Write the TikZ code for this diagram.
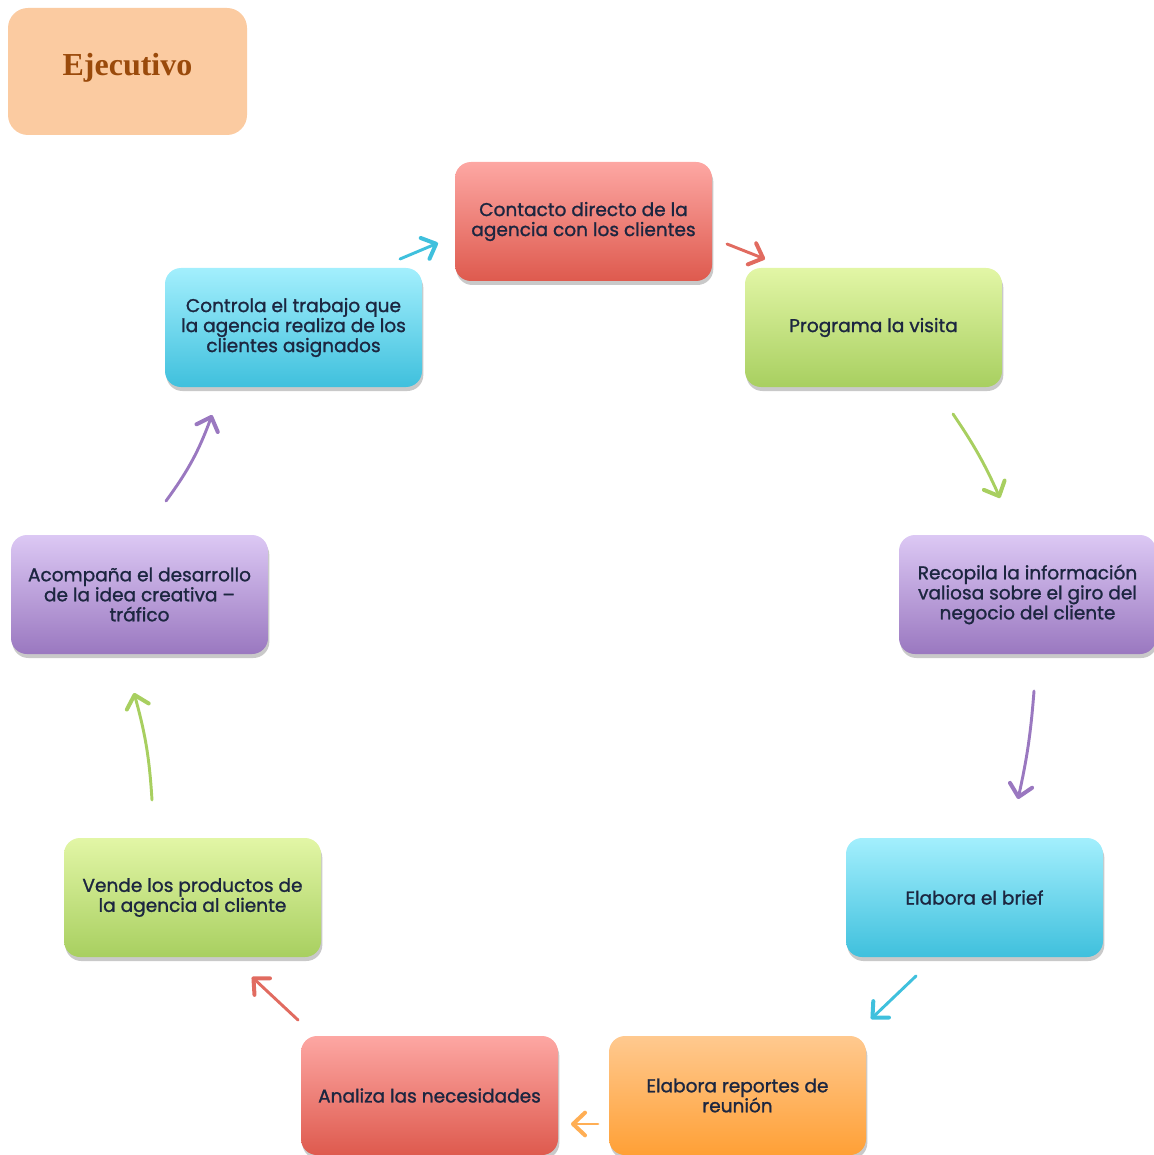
\documentclass[tikz,border=0pt]{standalone}
\usepackage{fontspec}
\setmainfont{Poppins}[FakeBold=1.2]
\newfontfamily\titulofont{Liberation Serif}
\usetikzlibrary{positioning,shadows,arrows.meta}

\definecolor{textoazul}{HTML}{1C2640}
\definecolor{rojoA}{HTML}{FDA7A3}
\definecolor{rojoB}{HTML}{DE5A4E}
\definecolor{verdeA}{HTML}{E2F6A6}
\definecolor{verdeB}{HTML}{A8CF60}
\definecolor{moradoA}{HTML}{DCC8F4}
\definecolor{moradoB}{HTML}{9A78C0}
\definecolor{cianA}{HTML}{A3EFFD}
\definecolor{cianB}{HTML}{3FC0DD}
\definecolor{naranjaA}{HTML}{FFC98F}
\definecolor{naranjaB}{HTML}{FFA036}
\definecolor{durazno}{HTML}{FBCBA1}
\definecolor{cafe}{HTML}{9A4A0B}

\begin{document}
\begin{tikzpicture}[x=0.75pt, y=-0.75pt,
  paso/.style={rectangle, rounded corners=12pt, minimum width=192.75pt, minimum height=89.25pt,
    align=center, text=textoazul, font=\fontsize{13.9}{15}\selectfont,
    drop shadow={shadow xshift=1pt, shadow yshift=-3pt, opacity=0.3, fill=black!70}},
  rojo/.style={paso, top color=rojoA, bottom color=rojoB},
  verde/.style={paso, top color=verdeA, bottom color=verdeB},
  morado/.style={paso, top color=moradoA, bottom color=moradoB},
  cian/.style={paso, top color=cianA, bottom color=cianB},
  naranja/.style={paso, top color=naranjaA, bottom color=naranjaB},
  flecha/.style={line width=2.2pt, line cap=round,
    -{Straight Barb[length=9pt,width=17pt,line width=3pt,round]}}]
  \useasboundingbox (0,0) rectangle (1153,1155);
  % Nodes
  \node [rectangle, rounded corners=15pt, fill=durazno, minimum width=179.25pt, minimum height=95.25pt,
    text=cafe, font=\titulofont\bfseries\fontsize{24}{28}\selectfont] (ejecutivo) at (127.5,71.5) {\raisebox{11pt}{Ejecutivo}};
  \node [rojo] (contacto) at (583.5,221.5) {Contacto directo de la\\agencia con los clientes};
  \node [verde] (programa) at (873.5,327.5) {Programa la visita};
  \node [morado] (recopila) at (1027.5,594.5) {Recopila la información\\valiosa sobre el giro del\\negocio del cliente};
  \node [cian] (brief) at (974.5,897.5) {Elabora el brief};
  \node [naranja] (reportes) at (737.5,1095.5) {Elabora reportes de\\reunión};
  \node [rojo] (analiza) at (429.5,1095.5) {Analiza las necesidades};
  \node [verde] (vende) at (192.5,897.5) {Vende los productos de\\la agencia al cliente};
  \node [morado] (acompana) at (139.5,594.5) {Acompaña el desarrollo\\de la idea creativa –\\tráfico};
  \node [cian] (controla) at (293.5,327.5) {Controla el trabajo que\\la agencia realiza de los\\clientes asignados};
  % Arrow ends
  \coordinate (f1a) at (727,244);  \coordinate (f1b) at (765,259);
  \coordinate (f2a) at (953,414);  \coordinate (f2b) at (1000,498);
  \coordinate (f3a) at (1034,691); \coordinate (f3b) at (1018,799);
  \coordinate (f4a) at (916,976);  \coordinate (f4b) at (871,1019);
  \coordinate (f5a) at (598,1124); \coordinate (f5b) at (571,1124);
  \coordinate (f6a) at (298,1020); \coordinate (f6b) at (252,977);
  \coordinate (f7a) at (152,800);  \coordinate (f7b) at (134,693);
  \coordinate (f8a) at (166,501);  \coordinate (f8b) at (212,415);
  \coordinate (f9a) at (400,259);  \coordinate (f9b) at (438,243);
  % Arrows
  \draw [flecha, rojoB!90] (f1a) -- (f1b);
  \draw [flecha, verdeB] (f2a) to[bend left=5] (f2b);
  \draw [flecha, moradoB] (f3a) to[bend left=4] (f3b);
  \draw [flecha, cianB] (f4a) -- (f4b);
  \draw [flecha, naranjaB!85] (f5a) -- (f5b);
  \draw [flecha, rojoB!90] (f6a) -- (f6b);
  \draw [flecha, verdeB] (f7a) to[bend right=6] (f7b);
  \draw [flecha, moradoB] (f8a) to[bend right=8] (f8b);
  \draw [flecha, cianB] (f9a) -- (f9b);
\end{tikzpicture}
\end{document}
